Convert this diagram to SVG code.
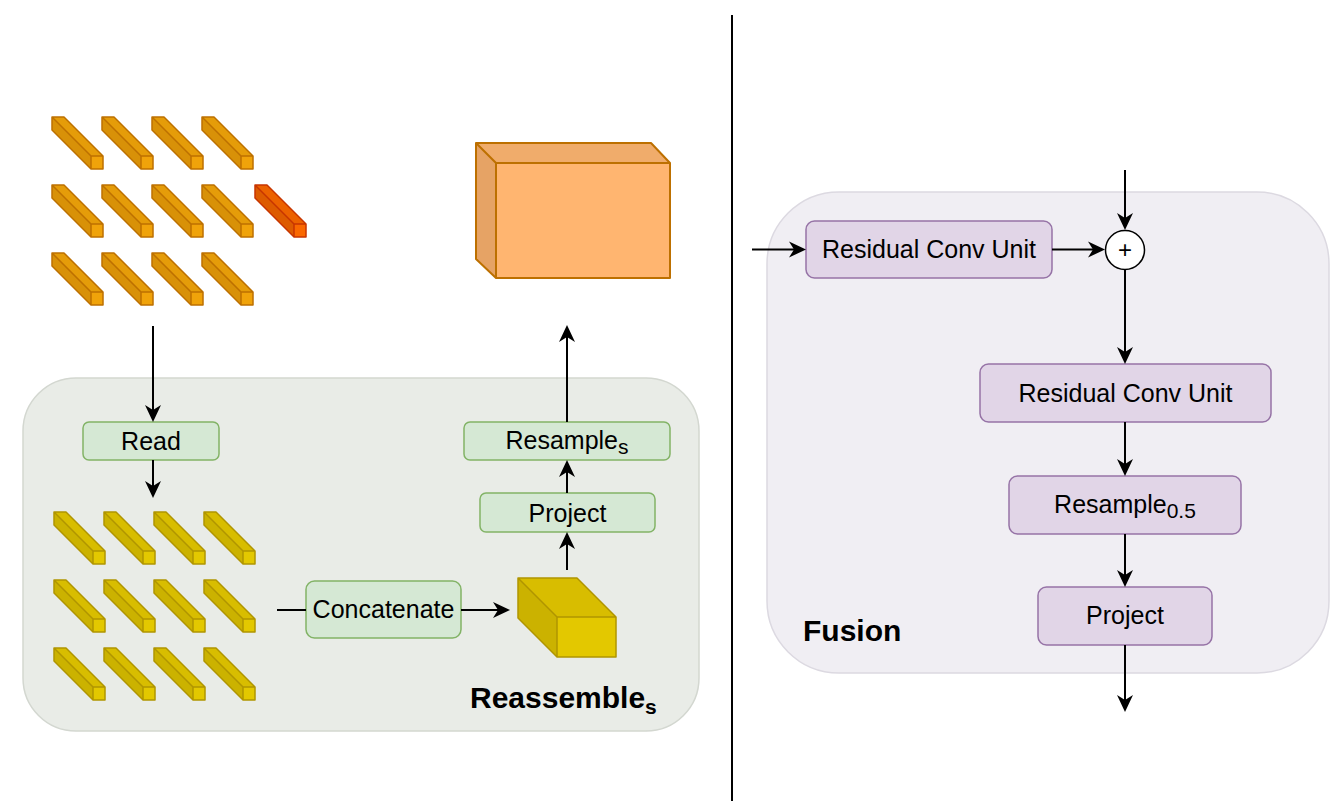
<svg xmlns="http://www.w3.org/2000/svg" xmlns:xlink="http://www.w3.org/1999/xlink" width="1342" height="810" viewBox="0 0 1342 810">
<style>
text{font-family:"Liberation Sans",Arial,Helvetica,sans-serif;fill:#000}
.lbl{font-size:25px;text-anchor:middle}
.sub{font-size:21px}
.title{font-size:30px;font-weight:bold}
.green{fill:#d5e8d4;stroke:#82b366;stroke-width:1.5}
.purple{fill:#e1d5e7;stroke:#9673a6;stroke-width:1.5}
.edge{fill:none;stroke:#000;stroke-width:2}
.arr{marker-end:url(#ah)}
.bf{fill:var(--front)}
.bt{fill:var(--top)}
.bs{fill:var(--side)}
.bo{fill:none;stroke:var(--stroke);stroke-width:1.5;stroke-linejoin:round}
.orange{--front:#f0a30a;--top:#e59c09;--side:#d89108;--stroke:#bd7000}
.red{--front:#fa6800;--top:#ec6200;--side:#dd5b00;--stroke:#c73500}
.yellow{--front:#e3c800;--top:#d8bd00;--side:#cbb200;--stroke:#b09500}
</style>
<defs>
<marker id="ah" markerUnits="userSpaceOnUse" markerWidth="24" markerHeight="20" viewBox="-6 -10 24 20" refX="0" refY="0" orient="auto" overflow="visible">
<path d="M12,0 L-5,-8 L0,0 L-5,8 Z" fill="#000"/>
</marker>
<g id="bar">
<path class="bt" d="M0,0 L12,0 L51,39 L39,39 Z"/>
<path class="bs" d="M0,0 L39,39 L39,52 L0,13 Z"/>
<rect class="bf" x="39" y="39" width="12" height="13"/>
<path class="bo" d="M0,0 L12,0 L51,39 L51,52 L39,52 L0,13 Z M0,0 L39,39 L51,39 M39,39 L39,52"/>
</g>
</defs>

<g id="divider"><path d="M732,15 V801" stroke="#000" stroke-width="2"/></g>

<g id="reassemble-container">
<rect x="23" y="378" width="676" height="353" rx="53" fill="#e9ece7" stroke="#d3d7d0" stroke-width="1.5"/>
<text class="title" x="470" y="708">Reassemble<tspan class="sub" font-size="25" dy="6">s</tspan></text>
</g>

<g id="fusion-container">
<rect x="767" y="192" width="562" height="481" rx="72" fill="#f0eef3" stroke="#dcd9e1" stroke-width="1.5"/>
<text class="title" x="803" y="641">Fusion</text>
</g>

<g id="input-tokens">
<use xlink:href="#bar" class="orange" x="52" y="117"/>
<use xlink:href="#bar" class="orange" x="102" y="117"/>
<use xlink:href="#bar" class="orange" x="152" y="117"/>
<use xlink:href="#bar" class="orange" x="202" y="117"/>
<use xlink:href="#bar" class="orange" x="52" y="185"/>
<use xlink:href="#bar" class="orange" x="102" y="185"/>
<use xlink:href="#bar" class="orange" x="152" y="185"/>
<use xlink:href="#bar" class="orange" x="202" y="185"/>
<use xlink:href="#bar" class="orange" x="52" y="253"/>
<use xlink:href="#bar" class="orange" x="102" y="253"/>
<use xlink:href="#bar" class="orange" x="152" y="253"/>
<use xlink:href="#bar" class="orange" x="202" y="253"/>
</g>
<g id="readout-token">
<use xlink:href="#bar" class="red" x="255" y="185"/>
</g>

<g id="output-feature-map">
<path d="M476,143 L651,143 L670,163 L496,163 Z" fill="#f0ac6b"/>
<path d="M476,143 L496,163 L496,278 L476,259 Z" fill="#e6a365"/>
<rect x="496" y="163" width="174" height="115" fill="#ffb570"/>
<path d="M476,143 L651,143 L670,163 L670,278 L496,278 L476,259 Z M476,143 L496,163 L670,163 M496,163 L496,278" fill="none" stroke="#bd7000" stroke-width="2" stroke-linejoin="round"/>
</g>

<g id="read-tokens">
<use xlink:href="#bar" class="yellow" x="54" y="512"/>
<use xlink:href="#bar" class="yellow" x="104" y="512"/>
<use xlink:href="#bar" class="yellow" x="154" y="512"/>
<use xlink:href="#bar" class="yellow" x="204" y="512"/>
<use xlink:href="#bar" class="yellow" x="54" y="580"/>
<use xlink:href="#bar" class="yellow" x="104" y="580"/>
<use xlink:href="#bar" class="yellow" x="154" y="580"/>
<use xlink:href="#bar" class="yellow" x="204" y="580"/>
<use xlink:href="#bar" class="yellow" x="54" y="648"/>
<use xlink:href="#bar" class="yellow" x="104" y="648"/>
<use xlink:href="#bar" class="yellow" x="154" y="648"/>
<use xlink:href="#bar" class="yellow" x="204" y="648"/>
</g>

<g id="concat-cube">
<path d="M518,578 L577,578 L616,617 L557,617 Z" fill="#d8bd00"/>
<path d="M518,578 L557,617 L557,657 L518,618 Z" fill="#cbb200"/>
<rect x="557" y="617" width="59" height="40" fill="#e3c800"/>
<path d="M518,578 L577,578 L616,617 L616,657 L557,657 L518,618 Z M518,578 L557,617 L616,617 M557,617 L557,657" fill="none" stroke="#b09500" stroke-width="1.5" stroke-linejoin="round"/>
</g>

<g id="read"><rect class="green" x="83" y="422" width="136" height="38" rx="6"/><text class="lbl" x="151" y="450">Read</text></g>
<g id="concatenate"><rect class="green" x="306" y="581" width="155" height="57" rx="8.5"/><text class="lbl" x="383.5" y="618">Concatenate</text></g>
<g id="project-left"><rect class="green" x="480" y="493" width="175" height="39" rx="6"/><text class="lbl" x="567.5" y="521.5">Project</text></g>
<g id="resample-left"><rect class="green" x="464" y="422" width="206" height="38" rx="6"/><text class="lbl" x="567" y="449">Resample<tspan class="sub" dy="5">s</tspan></text></g>

<g id="rcu-1"><rect class="purple" x="806" y="221" width="246" height="57" rx="8.5"/><text class="lbl" x="929" y="258">Residual Conv Unit</text></g>
<g id="sum"><circle cx="1125" cy="250" r="19.5" fill="#fff" stroke="#000" stroke-width="1.5"/><text x="1125" y="258" font-size="24" text-anchor="middle">+</text></g>
<g id="rcu-2"><rect class="purple" x="980" y="364" width="291" height="58" rx="8.5"/><text class="lbl" x="1125.5" y="402">Residual Conv Unit</text></g>
<g id="resample-fusion"><rect class="purple" x="1009" y="476" width="232" height="58" rx="8.5"/><text class="lbl" x="1125" y="512.5">Resample<tspan class="sub" dy="5">0.5</tspan></text></g>
<g id="project-fusion"><rect class="purple" x="1038" y="587" width="174" height="58" rx="8.5"/><text class="lbl" x="1125" y="624">Project</text></g>

<g id="connectors">
<path class="edge arr" d="M153,326 V410"/>
<path class="edge arr" d="M153,460 V486"/>
<path class="edge" d="M277,610 H306"/>
<path class="edge arr" d="M461,610 H498"/>
<path class="edge arr" d="M567,570 V544"/>
<path class="edge arr" d="M567,493 V472"/>
<path class="edge arr" d="M567,422 V337"/>
<path class="edge arr" d="M752,249.5 H794"/>
<path class="edge arr" d="M1052,249.5 H1093"/>
<path class="edge arr" d="M1125,170 V218"/>
<path class="edge arr" d="M1125,270 V352"/>
<path class="edge arr" d="M1125,422 V464"/>
<path class="edge arr" d="M1125,534 V575"/>
<path class="edge arr" d="M1125,645 V700"/>
</g>
</svg>
